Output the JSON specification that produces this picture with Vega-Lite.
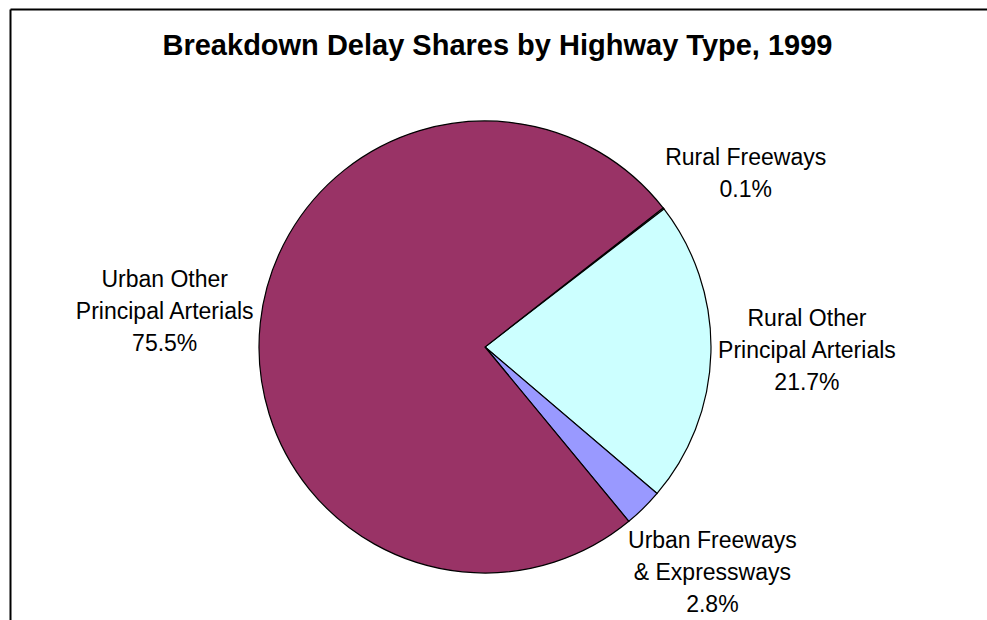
{
  "$schema": "https://vega.github.io/schema/vega-lite/v6.json",
  "width": 1000,
  "height": 676,
  "autosize": {"type": "none"},
  "padding": {"left": 10, "top": 9, "right": -23, "bottom": -65},
  "background": "white",
  "config": {"view": {"stroke": null}, "font": "Liberation Sans"},
  "title": {
    "text": "Breakdown Delay Shares by Highway Type, 1999",
    "font": "Liberation Sans",
    "fontSize": 29,
    "fontWeight": "bold",
    "color": "black",
    "anchor": "middle",
    "dx": -12.5,
    "dy": 29,
    "offset": -49,
    "baseline": "alphabetic"
  },
  "data": {
    "values": [
      {"order": 1, "category": "Rural Freeways", "share": 0.1},
      {"order": 2, "category": "Rural Other\nPrincipal Arterials", "share": 21.7},
      {"order": 3, "category": "Urban Freeways\n& Expressways", "share": 2.8},
      {"order": 4, "category": "Urban Other\nPrincipal Arterials", "share": 75.5}
    ]
  },
  "transform": [
    {"calculate": "datum.category + '\\n' + format(datum.share, '.1f') + '%'", "as": "label"}
  ],
  "layer": [
    {
      "mark": {"type": "point", "opacity": 0},
      "encoding": {
        "x": {"datum": 0, "type": "quantitative", "axis": {"orient": "top", "domain": true, "domainColor": "black", "domainWidth": 2, "labels": false, "ticks": false, "grid": false, "title": null}},
        "y": {"datum": 0, "type": "quantitative", "axis": {"orient": "left", "domain": true, "domainColor": "black", "domainWidth": 2, "labels": false, "ticks": false, "grid": false, "title": null}}
      }
    },
    {
      "mark": {"type": "arc", "outerRadius": 226, "stroke": "black", "strokeWidth": 1.2, "xOffset": -25},
      "encoding": {
        "theta": {"field": "share", "type": "quantitative", "stack": true, "scale": {"range": [0.9076, 7.1908]}},
        "order": {"field": "order", "type": "quantitative"},
        "color": {
          "field": "category",
          "type": "nominal",
          "scale": {
            "domain": ["Rural Freeways", "Rural Other\nPrincipal Arterials", "Urban Freeways\n& Expressways", "Urban Other\nPrincipal Arterials"],
            "range": ["#FFFFCC", "#CCFFFF", "#9999FF", "#993366"]
          },
          "legend": null
        }
      }
    },
    {
      "transform": [{"filter": "length(split(datum.label, '\\n')) == 3"}],
      "mark": {"type": "text", "radius": 322, "xOffset": -25, "dy": -34, "font": "Liberation Sans", "fontSize": 23, "lineHeight": 32, "lineBreak": "\n", "align": "center", "baseline": "middle", "color": "black"},
      "encoding": {
        "theta": {"field": "share", "type": "quantitative", "stack": true, "scale": {"range": [0.9076, 7.1908]}},
        "order": {"field": "order", "type": "quantitative"},
        "text": {"field": "label", "type": "nominal"}
      }
    },
    {
      "transform": [{"filter": "length(split(datum.label, '\\n')) == 2"}],
      "mark": {"type": "text", "radius": 330, "xOffset": -25, "dy": 13, "font": "Liberation Sans", "fontSize": 23, "lineHeight": 32, "lineBreak": "\n", "align": "center", "baseline": "middle", "color": "black"},
      "encoding": {
        "theta": {"field": "share", "type": "quantitative", "stack": true, "scale": {"range": [0.9076, 7.1908]}},
        "order": {"field": "order", "type": "quantitative"},
        "text": {"field": "label", "type": "nominal"}
      }
    }
  ]
}
